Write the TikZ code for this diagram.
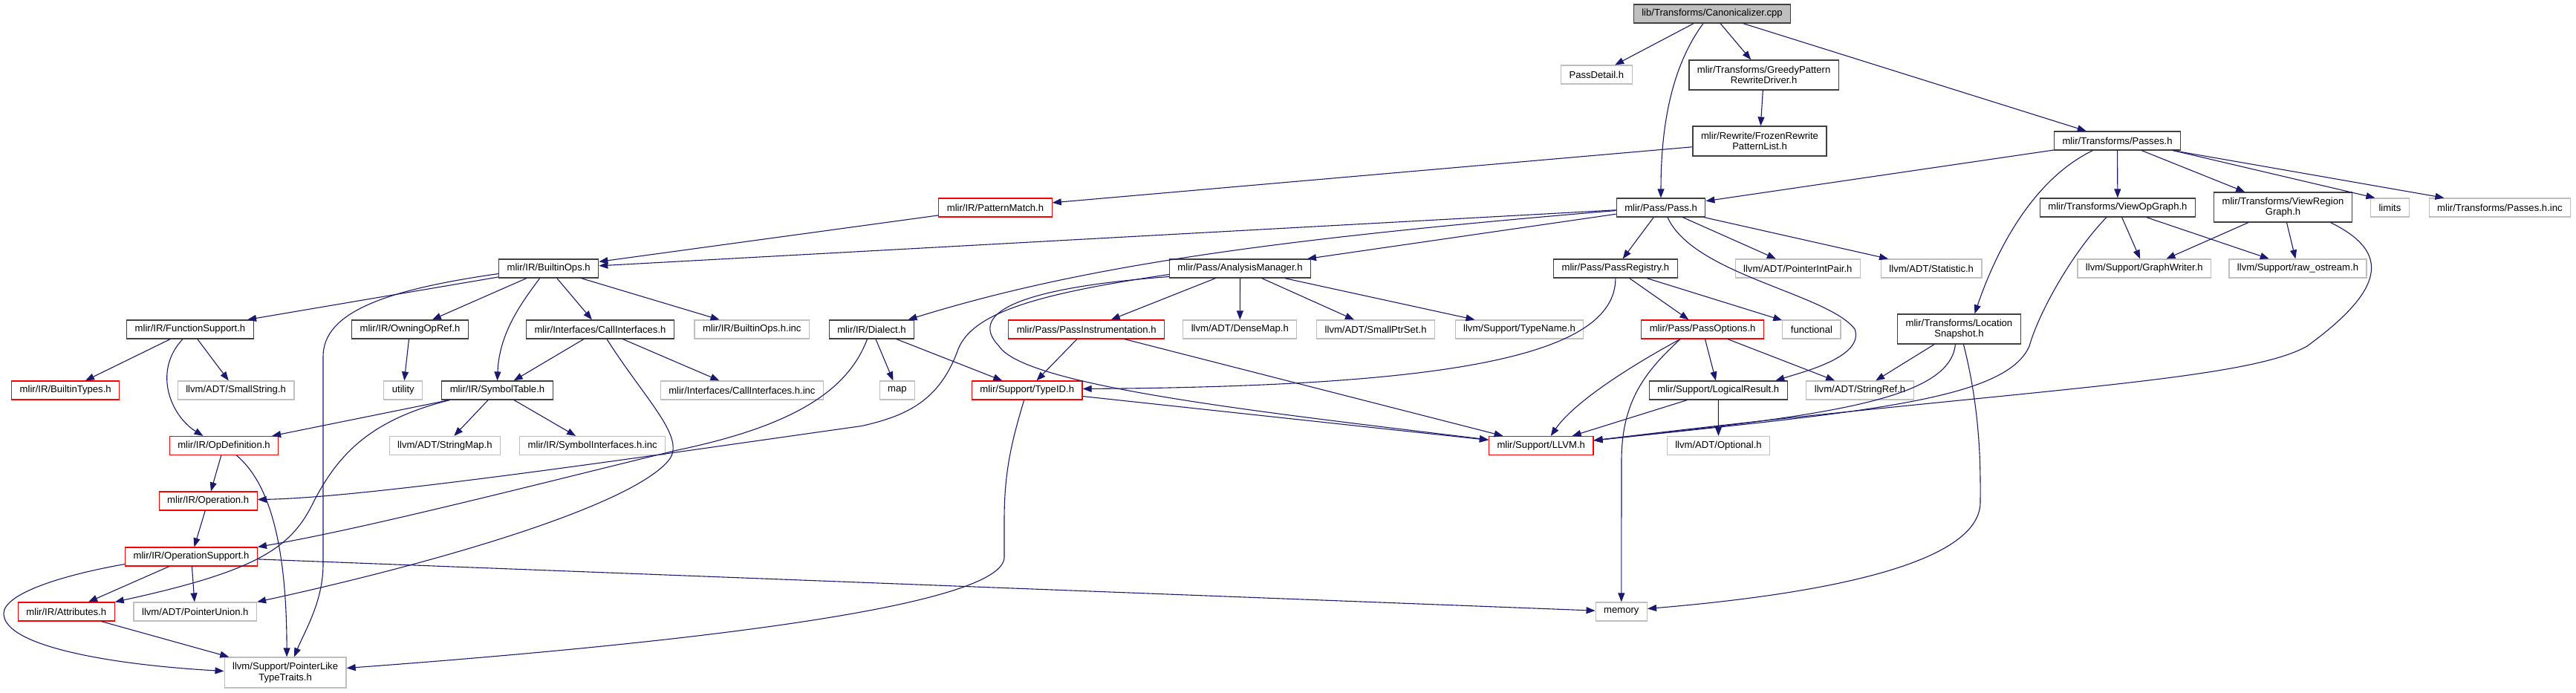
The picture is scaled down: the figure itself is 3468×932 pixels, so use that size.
\documentclass[tikz,border=0pt]{standalone}
\usepackage{fontspec}
\setmainfont{Liberation Sans}
\usetikzlibrary{arrows.meta}
\definecolor{edgeblue}{HTML}{191970}
\definecolor{boxgrey}{HTML}{BFBFBF}
\definecolor{boxdark}{HTML}{404040}

\begin{document}
\begin{tikzpicture}[x=1pt,y=-1pt,
	hdr/.style={draw=boxdark,line width=1.2pt,inner xsep=11pt,inner ysep=2pt,minimum height=25pt,
		align=center,font=\fontsize{13.1}{14.5}\selectfont},
	ext/.style={hdr,draw=boxgrey},
	bad/.style={hdr,draw=red},
	dep/.style={draw=edgeblue,line width=1.1pt,-{Triangle[length=12pt,width=9pt]}}]
%
	\useasboundingbox (0,0) rectangle (3468,932);
%
	\node[hdr,fill=boxgrey] (root) at (2305,18.5) {lib/Transforms/Canonicalizer.cpp};
	\node[ext] (passdetail) at (2149.3,100.5) {PassDetail.h};
	\node[hdr,minimum height=40pt] (greedy) at (2374.6,101) {mlir/Transforms/GreedyPattern\\RewriteDriver.h};
	\node[hdr,minimum height=40pt] (frozen) at (2369,190) {mlir/Rewrite/FrozenRewrite\\PatternList.h};
	\node[hdr] (passes) at (2850.5,189.5) {mlir/Transforms/Passes.h};
	\node[bad] (patmatch) at (1340,279.5) {mlir/IR/PatternMatch.h};
	\node[hdr] (pass) at (2236,279.5) {mlir/Pass/Pass.h};
	\node[hdr] (viewop) at (2850.9,279.5) {mlir/Transforms/ViewOpGraph.h};
	\node[hdr,minimum height=40pt] (viewregion) at (3073.5,279) {mlir/Transforms/ViewRegion\\Graph.h};
	\node[ext] (limits) at (3217.4,279.5) {limits};
	\node[ext] (passesinc) at (3365.4,279.5) {mlir/Transforms/Passes.h.inc};
%
	\node[hdr] (builtinops) at (738.7,361.5) {mlir/IR/BuiltinOps.h};
	\node[hdr] (analysis) at (1669.5,361.5) {mlir/Pass/AnalysisManager.h};
	\node[hdr] (registry) at (2174.9,361.5) {mlir/Pass/PassRegistry.h};
	\node[ext] (ptrintpair) at (2420.3,361.5) {llvm/ADT/PointerIntPair.h};
	\node[ext] (statistic) at (2600.2,361.5) {llvm/ADT/Statistic.h};
	\node[ext] (graphwriter) at (2886.8,361.5) {llvm/Support/GraphWriter.h};
	\node[ext] (rawostream) at (3093.5,361.5) {llvm/Support/raw\_ostream.h};
%
	\node[hdr] (funcsupport) at (256,443.5) {mlir/IR/FunctionSupport.h};
	\node[hdr] (owningopref) at (552,443.5) {mlir/IR/OwningOpRef.h};
	\node[hdr] (callif) at (808,443.5) {mlir/Interfaces/CallInterfaces.h};
	\node[ext] (builtinopsinc) at (1012.3,443.5) {mlir/IR/BuiltinOps.h.inc};
	\node[hdr] (dialect) at (1173.5,443.5) {mlir/IR/Dialect.h};
	\node[bad] (passinstr) at (1462.7,443.5) {mlir/Pass/PassInstrumentation.h};
	\node[ext] (densemap) at (1669.3,443.5) {llvm/ADT/DenseMap.h};
	\node[ext] (smallptrset) at (1852.1,443.5) {llvm/ADT/SmallPtrSet.h};
	\node[ext] (typename) at (2045.5,443.5) {llvm/Support/TypeName.h};
	\node[bad] (passoptions) at (2292.1,443.5) {mlir/Pass/PassOptions.h};
	\node[ext] (functional) at (2438.9,443.5) {functional};
	\node[hdr,minimum height=40pt] (locsnap) at (2637.4,443) {mlir/Transforms/Location\\Snapshot.h};
%
	\node[bad] (builtintypes) at (88.2,525.5) {mlir/IR/BuiltinTypes.h};
	\node[ext] (smallstring) at (317.6,525.5) {llvm/ADT/SmallString.h};
	\node[ext] (utility) at (542.8,525.5) {utility};
	\node[hdr] (symtable) at (669.5,525.5) {mlir/IR/SymbolTable.h};
	\node[ext] (callifinc) at (998.9,525.5) {mlir/Interfaces/CallInterfaces.h.inc};
	\node[ext] (map) at (1207.9,525.5) {map};
	\node[bad] (typeid) at (1382.7,525.5) {mlir/Support/TypeID.h};
	\node[hdr] (logresult) at (2313.3,525.5) {mlir/Support/LogicalResult.h};
	\node[ext] (stringref) at (2504,525.5) {llvm/ADT/StringRef.h};
%
	\node[bad] (opdef) at (301.5,600) {mlir/IR/OpDefinition.h};
	\node[ext] (stringmap) at (598.9,600) {llvm/ADT/StringMap.h};
	\node[ext] (symifinc) at (797.7,600) {mlir/IR/SymbolInterfaces.h.inc};
	\node[bad] (llvm) at (2074.7,600) {mlir/Support/LLVM.h};
	\node[ext] (optional) at (2313.5,600) {llvm/ADT/Optional.h};
	\node[bad] (operation) at (280.2,674.5) {mlir/IR/Operation.h};
	\node[bad] (opsupport) at (257.5,749.5) {mlir/IR/OperationSupport.h};
	\node[bad] (attributes) at (89.3,823.5) {mlir/IR/Attributes.h};
	\node[ext] (ptrunion) at (262.8,823.5) {llvm/ADT/PointerUnion.h};
	\node[ext] (memory) at (2182.8,823.5) {memory};
	\node[ext,minimum height=41pt] (ptrlike) at (384.1,905.5) {llvm/Support/PointerLike\\TypeTraits.h};
%
	\draw[dep] (root) -- (passdetail);
	\draw[dep] ([xshift=-12pt]root.south) .. controls (2250,90) and (2236,170) .. (pass.north);
	\draw[dep] (root) -- (greedy);
	\draw[dep] (root) -- (passes);
	\draw[dep] (greedy) -- (frozen);
	\draw[dep] (frozen) -- (patmatch);
%
	\draw[dep] (passes) -- (pass);
	\draw[dep] ([xshift=-33pt]passes.south) .. controls (2740,240) and (2690,330) .. ([xshift=21pt]locsnap.north);
	\draw[dep] (passes) -- (viewop);
	\draw[dep] (passes) -- (viewregion);
	\draw[dep] ([xshift=75pt]passes.south) -- ([xshift=-20pt]limits.north);
	\draw[dep] (passes) -- (passesinc);
%
	\draw[dep] (patmatch) -- (builtinops);
	\draw[dep] (pass) -- (builtinops);
	\draw[dep] ([yshift=-4pt]pass.west) .. controls (1700,323) and (1450,360) .. ([xshift=49pt]dialect.north);
	\draw[dep] (pass) -- (analysis);
	\draw[dep] (pass) -- (registry);
	\draw[dep] (pass) -- (ptrintpair);
	\draw[dep] (pass) -- (statistic);
	\draw[dep] ([xshift=9pt]pass.south) .. controls (2280,370) and (2460,395) .. (2497,443)
		.. controls (2510,480) and (2430,500) .. ([xshift=77pt]logresult.north);
%
	\draw[dep] (viewop) -- (graphwriter);
	\draw[dep] (viewop) -- (rawostream);
	\draw[dep] ([xshift=-15pt]viewop.south) .. controls (2790,340) and (2745,420) .. (2732,466)
		.. controls (2700,540) and (2500,555) .. ([yshift=7pt]llvm.east);
	\draw[dep] (viewregion) -- (graphwriter);
	\draw[dep] (viewregion) -- (rawostream);
	\draw[dep] ([xshift=64pt]viewregion.south) .. controls (3220,340) and (3210,390) .. (3106,466)
		.. controls (3020,515) and (2700,525) .. ([yshift=7pt]llvm.east);
%
	\draw[dep] (builtinops) -- (funcsupport);
	\draw[dep] (builtinops) -- (owningopref);
	\draw[dep] ([xshift=-12pt]builtinops.south) .. controls (700,410) and (672,450) .. (symtable.north);
	\draw[dep] (builtinops) -- (callif);
	\draw[dep] (builtinops) -- (builtinopsinc);
	\draw[dep] ([yshift=-7pt]builtinops.west) .. controls (520,390) and (435,420) .. (435,480) -- (435,760)
		.. controls (435,810) and (410,850) .. ([xshift=12pt]ptrlike.north);
%
	\draw[dep] ([yshift=-8pt]analysis.west) .. controls (1400,395) and (1310,420) .. (1290,470)
		.. controls (1265,540) and (1220,560) .. (1160,573.5)
		.. controls (900,610) and (500,670) .. ([yshift=2pt]operation.east);
	\draw[dep] ([yshift=-11pt]analysis.west) .. controls (1340,390) and (1310,430) .. (1345,466)
		.. controls (1380,520) and (1700,555) .. ([yshift=8pt]llvm.west);
	\draw[dep] (analysis) -- (passinstr);
	\draw[dep] (analysis) -- (densemap);
	\draw[dep] (analysis) -- (smallptrset);
	\draw[dep] (analysis) -- (typename);
%
	\draw[dep] (registry.south) .. controls (2175,480) and (1950,520) .. ([yshift=2pt]typeid.east);
	\draw[dep] (registry) -- (passoptions);
	\draw[dep] (registry) -- (functional);
%
	\draw[dep] (funcsupport) -- (builtintypes);
	\draw[dep] (funcsupport) -- (smallstring);
	\draw[dep] ([xshift=-10pt]funcsupport.south) .. controls (205,500) and (230,560) .. ([xshift=-28pt]opdef.north);
	\draw[dep] (owningopref) -- (utility);
	\draw[dep] (callif) -- (symtable);
	\draw[dep] (callif) -- (callifinc);
	\draw[dep] ([xshift=9pt]callif.south) .. controls (870,540) and (925,590) .. (900,620)
		.. controls (850,680) and (600,755) .. (ptrunion.north east);
	\draw[dep] (dialect) -- (map);
	\draw[dep] (dialect) -- (typeid);
	\draw[dep] ([xshift=-6pt]dialect.south) .. controls (1140,530) and (1060,575) .. (912,606)
		.. controls (750,645) and (500,710) .. (opsupport.north east);
	\draw[dep] (passinstr) -- (typeid);
	\draw[dep] (passinstr) -- (llvm);
	\draw[dep] ([xshift=-30pt]passoptions.south) .. controls (2200,490) and (2120,540) .. ([xshift=13pt]llvm.north);
	\draw[dep] (passoptions) -- (logresult);
	\draw[dep] (passoptions) -- (stringref);
	\draw[dep] ([xshift=-30pt]passoptions.south) .. controls (2215,500) and (2183,540) .. (2183,620) -- (memory.north);
	\draw[dep] (locsnap) -- (stringref);
	\draw[dep] ([xshift=-5pt]locsnap.south) .. controls (2625,540) and (2450,560) .. ([yshift=7pt]llvm.east);
	\draw[dep] ([xshift=6pt]locsnap.south) .. controls (2668,560) and (2666,640) .. (2666,676)
		.. controls (2666,760) and (2450,800) .. ([yshift=4pt]memory.east);
%
	\draw[dep] (symtable) -- (opdef);
	\draw[dep] ([xshift=-64pt]symtable.south) .. controls (500,565) and (455,610) .. (420,680)
		.. controls (390,740) and (340,770) .. (attributes.north east);
	\draw[dep] (symtable) -- (stringmap);
	\draw[dep] (symtable) -- (symifinc);
	\draw[dep] (typeid) -- (llvm);
	\draw[dep] ([xshift=-4pt]typeid.south) .. controls (1360,600) and (1352,640) .. (1352,700) -- (1352,750)
		.. controls (1352,810) and (1000,860) .. ([yshift=6pt]ptrlike.east);
	\draw[dep] (logresult) -- (llvm);
	\draw[dep] (logresult) -- (optional);
	\draw[dep] (opdef) -- (operation);
	\draw[dep] ([xshift=17pt]opdef.south) .. controls (350,640) and (386,700) .. ([xshift=2pt]ptrlike.north);
	\draw[dep] (operation) -- (opsupport);
	\draw[dep] (opsupport) -- (attributes);
	\draw[dep] (opsupport) -- (ptrunion);
	\draw[dep] ([yshift=-10pt]opsupport.west) .. controls (80,775) and (5,800) .. (5,826)
		.. controls (5,870) and (150,895) .. ([yshift=2pt]ptrlike.west);
	\draw[dep] (opsupport) -- (memory);
	\draw[dep] (attributes) -- (ptrlike);
%
\end{tikzpicture}
\end{document}
